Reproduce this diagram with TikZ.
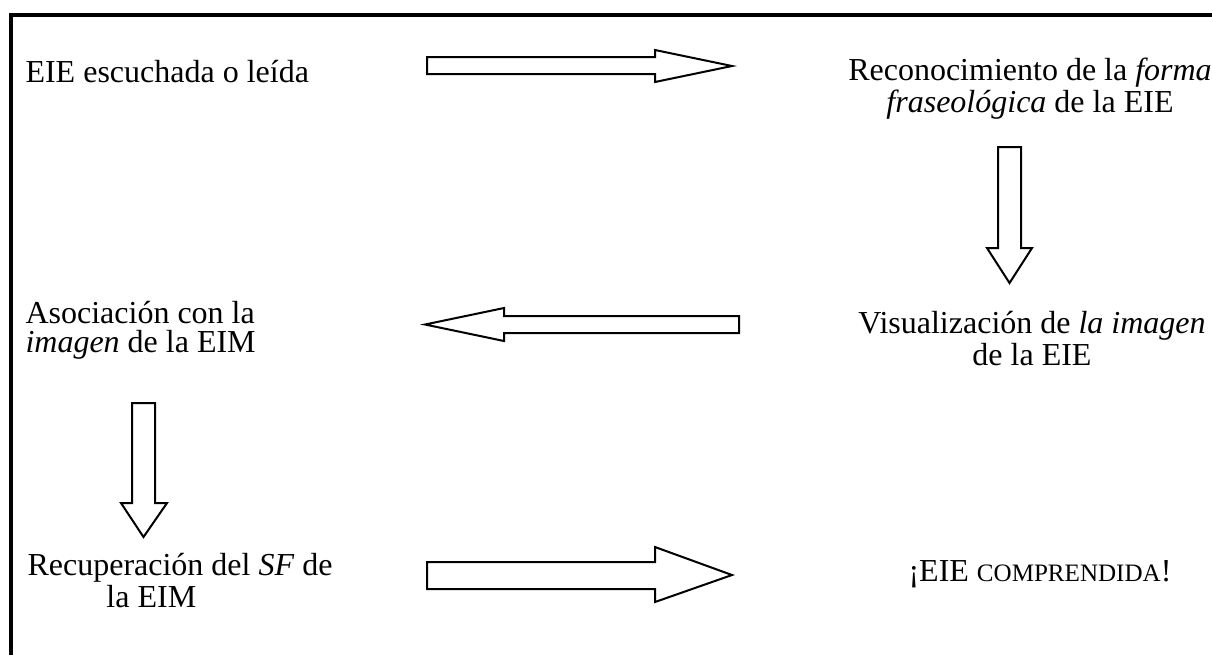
\documentclass[tikz,border=0pt]{standalone}
\usepackage{fontspec}
\setmainfont{Liberation Serif}
\newcommand{\fakesc}[1]{{\fontsize{9.4}{10}\selectfont #1}}
\tikzset{
    frame/.style={line width=1.3pt, line join=miter},
    blockarrow/.style={draw, line width=0.75pt, line join=miter},
    txt/.style={inner sep=0pt, font=\fontsize{12}{10.7}\selectfont}
}

\begin{document}
\begin{tikzpicture}[x=0.375pt, y=-0.375pt]
            \useasboundingbox (0,0) rectangle (1212,655);
            \draw[frame] (11,655) -- (11,15) -- (1212,15);

            % steps (multi-line nodes sit on the baseline of their last line)
            \node[txt, anchor=base west] (heard) at (25,82) {EIE escuchada o leída};
            \node[txt, anchor=base, align=center] (form) at (1030,112) {Reconocimiento de la \textit{forma}\\\textit{fraseológica} de la EIE};
            \node[txt, anchor=base, align=center] (visual) at (1032,365) {Visualización de \textit{la imagen}\\de la EIE};
            \node[txt, anchor=base west, align=left] (assoc) at (25,352) {Asociación con la\\\textit{imagen} de la EIM};
            \node[txt, anchor=base west, align=left] (recover) at (27,607) {Recuperación del \textit{SF} de\\\hspace*{29.6pt}la EIM};
            \node[txt, anchor=base west] (done) at (908,581) {¡EIE \fakesc{COMPRENDIDA}!};

            % block arrows
            \draw[blockarrow] (427,57) -- (655,57) -- (655,50) -- (732,66) -- (655,82) -- (655,74) -- (427,74) -- cycle;
            \draw[blockarrow] (998,147) -- (998,248) -- (987,248) -- (1009.5,283) -- (1032,248) -- (1021,248) -- (1021,147) -- cycle;
            \draw[blockarrow] (739,316) -- (504,316) -- (504,308) -- (425,324.5) -- (504,341) -- (504,333) -- (739,333) -- cycle;
            \draw[blockarrow] (132,403) -- (132,503) -- (121,503) -- (143.5,537) -- (167,503) -- (155,503) -- (155,403) -- cycle;
            \draw[blockarrow] (427,562) -- (655,562) -- (655,547) -- (732,575) -- (655,602) -- (655,589) -- (427,589) -- cycle;
\end{tikzpicture}
\end{document}
